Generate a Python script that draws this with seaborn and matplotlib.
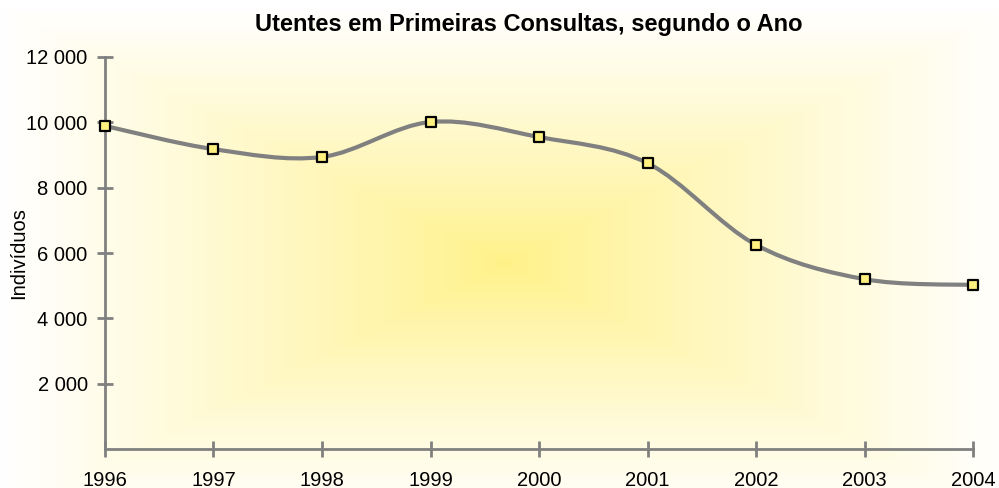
import numpy as np
import pandas as pd
import matplotlib
matplotlib.use("Agg")
import matplotlib.pyplot as plt
import seaborn as sns
from matplotlib.path import Path
from matplotlib.patches import PathPatch

anos = [1996, 1997, 1998, 1999, 2000, 2001, 2002, 2003, 2004]
utentes = [9890, 9180, 8940, 10010, 9550, 8750, 6250, 5200, 5020]
y_ticks = [2000, 4000, 6000, 8000, 10000, 12000]
y_labels = ["2 000", "4 000", "6 000", "8 000", "10 000", "12 000"]

df = pd.DataFrame({"Ano": anos, "Utentes": utentes})

sns.set_style("white")
plt.rcParams["font.family"] = ["Liberation Sans", "DejaVu Sans"]
plt.rcParams["text.color"] = "black"
plt.rcParams["axes.labelcolor"] = "black"
plt.rcParams["xtick.color"] = "black"
plt.rcParams["ytick.color"] = "black"

fig = plt.figure(figsize=(9.99, 4.88), dpi=100)

# fundo com gradiente rectangular (amarelo ao centro, branco nas bordas)
bg = fig.add_axes([0, 0, 1, 1], zorder=0)
h, w = 488, 999
yy, xx = np.mgrid[0:h, 0:w]
cx, cy = 505, 262
t = np.maximum(np.abs(xx - cx) / 505.0, np.abs(yy - cy) / 255.0)
t = np.clip(t, 0, 1) ** 0.85
amarelo = np.array([255, 241, 135]) / 255.0
branco = np.array([255, 255, 255]) / 255.0
img = amarelo[None, None, :] * (1 - t[..., None]) + branco[None, None, :] * t[..., None]
bg.imshow(img, aspect="auto", extent=[0, 1, 0, 1])
bg.axis("off")

ax = fig.add_axes([0.1051, 0.0799, 0.974 - 0.1051, 0.8832 - 0.0799], zorder=1)
ax.patch.set_alpha(0)

# linha suavizada (bezier tipo Excel)
x = np.array(anos, dtype=float)
y = np.array(utentes, dtype=float)
verts = [(x[0], y[0])]
codes = [Path.MOVETO]
n = len(x)
for i in range(n - 1):
    p0 = (x[i - 1], y[i - 1]) if i > 0 else (x[i], y[i])
    p1 = (x[i], y[i])
    p2 = (x[i + 1], y[i + 1])
    p3 = (x[i + 2], y[i + 2]) if i + 2 < n else (x[i + 1], y[i + 1])
    c1 = (p1[0] + (p2[0] - p0[0]) / 6, p1[1] + (p2[1] - p0[1]) / 6)
    c2 = (p2[0] - (p3[0] - p1[0]) / 6, p2[1] - (p3[1] - p1[1]) / 6)
    verts += [c1, c2, p2]
    codes += [Path.CURVE4] * 3
ax.add_patch(PathPatch(Path(verts, codes), facecolor="none", edgecolor="#808080",
                       lw=3, capstyle="round", zorder=2, clip_on=False))

sns.scatterplot(data=df, x="Ano", y="Utentes", ax=ax, marker="s", s=62,
                color="#FFF080", edgecolor="black", linewidth=1.6, zorder=3,
                legend=False, clip_on=False)

ax.set_xlim(1996, 2004)
ax.set_ylim(0, 12000)
ax.set_xticks(anos)
ax.set_xticklabels([str(a) for a in anos], fontsize=14.5)
ax.set_yticks(y_ticks)
ax.set_yticklabels(y_labels, fontsize=14.5)
ax.set_xlabel("")
ax.set_ylabel("Indivíduos", fontsize=14.5)
ax.yaxis.set_label_coords(-0.088, 0.5)

sns.despine(ax=ax)
for s in ["left", "bottom"]:
    ax.spines[s].set_color("#808080")
    ax.spines[s].set_linewidth(2)
ax.tick_params(axis="both", bottom=True, left=True, direction="inout", length=11,
               width=2, color="#808080", labelcolor="black")
ax.tick_params(axis="x", pad=10)
ax.tick_params(axis="y", pad=7)
ax.set_title("Utentes em Primeiras Consultas, segundo o Ano", fontsize=17,
             fontweight="bold", pad=19, x=0.4885)

fig.savefig("out.png", dpi=100)
